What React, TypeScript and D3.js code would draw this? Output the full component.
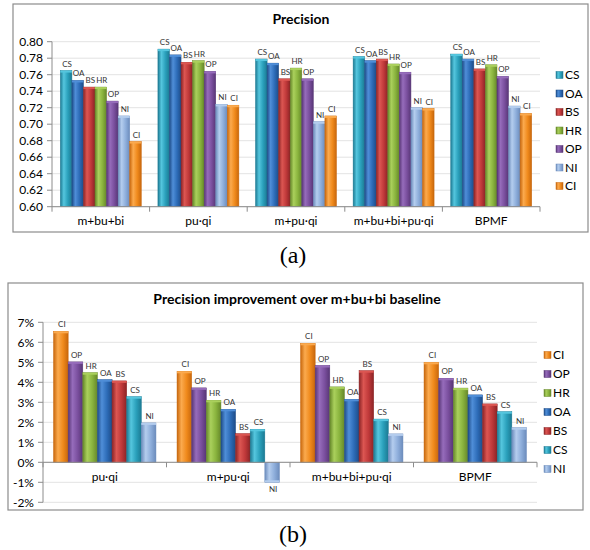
import React from 'react';
import * as d3 from 'd3';

// ---------- Data: chart (a) ----------
const topCategories = ['m+bu+bi', 'pu·qi', 'm+pu·qi', 'm+bu+bi+pu·qi', 'BPMF'];
const topSeries = ['CS', 'OA', 'BS', 'HR', 'OP', 'NI', 'CI'];
const topCS = [0.765, 0.791, 0.779, 0.782, 0.785];
const topOA = [0.753, 0.784, 0.774, 0.777, 0.779];
const topBS = [0.745, 0.775, 0.755, 0.779, 0.767];
const topHR = [0.745, 0.777, 0.768, 0.773, 0.772];
const topOP = [0.728, 0.764, 0.755, 0.763, 0.758];
const topNI = [0.710, 0.724, 0.703, 0.720, 0.722];
const topCI = [0.679, 0.723, 0.710, 0.719, 0.713];
const topTicks = [0.6, 0.62, 0.64, 0.66, 0.68, 0.7, 0.72, 0.74, 0.76, 0.78, 0.8];

// ---------- Data: chart (b) ----------
const botCategories = ['pu·qi', 'm+pu·qi', 'm+bu+bi+pu·qi', 'BPMF'];
const botSeries = ['CI', 'OP', 'HR', 'OA', 'BS', 'CS', 'NI'];
const botCI = [6.55, 4.55, 5.95, 5.0];
const botOP = [5.02, 3.72, 4.84, 4.2];
const botHR = [4.48, 3.1, 3.77, 3.71];
const botOA = [4.13, 2.65, 3.15, 3.37];
const botBS = [4.07, 1.43, 4.58, 2.92];
const botCS = [3.28, 1.65, 2.16, 2.53];
const botNI = [1.97, -1.0, 1.42, 1.73];
const botTicks = [-2, -1, 0, 1, 2, 3, 4, 5, 6, 7];

const topValues: Record<string, number[]> = { CS: topCS, OA: topOA, BS: topBS, HR: topHR, OP: topOP, NI: topNI, CI: topCI };
const botValues: Record<string, number[]> = { CI: botCI, OP: botOP, HR: botHR, OA: botOA, BS: botBS, CS: botCS, NI: botNI };

const colors: Record<string, { base: string; light: string; dark: string }> = {
  CS: { base: '#2aa0bb', light: '#55c6de', dark: '#1c7a93' },
  OA: { base: '#2d6cb8', light: '#4f8ed8', dark: '#1e4c88' },
  BS: { base: '#c0393a', light: '#dc5652', dark: '#8c2426' },
  HR: { base: '#8ab43e', light: '#aad05c', dark: '#66882a' },
  OP: { base: '#7a4f9e', light: '#966cbb', dark: '#583676' },
  NI: { base: '#8eaedb', light: '#b4cdee', dark: '#6c8cbc' },
  CI: { base: '#f08a1c', light: '#fbaa4e', dark: '#c8670c' },
};

const FONT = "Lato, 'Liberation Sans', Arial, sans-serif";

type ChartProps = {
  id: string;
  frame: [number, number, number, number];
  plotX: [number, number];
  plotY: [number, number];
  domain: [number, number];
  baseline: number;
  ticks: number[];
  tickFmt: (v: number) => string;
  categories: string[];
  series: string[];
  values: Record<string, number[]>;
  title: string;
  titleX: number;
  titleY: number;
  catLabelY: number;
  legendX: number;
  legendY: number;
  legendStep: number;
};

function Chart(p: ChartProps) {
  const y = d3.scaleLinear().domain(p.domain).range([p.plotY[1], p.plotY[0]]);
  const x0 = d3.scaleBand<string>().domain(p.categories).range(p.plotX).padding(0);
  const x1 = d3.scaleBand<string>().domain(p.series).range([0, x0.bandwidth()]).paddingInner(0).paddingOuter(0.72);
  const y0 = y(p.baseline);
  const [fx, fy, fw, fh] = p.frame;
  return (
    <g>
      <rect x={fx} y={fy} width={fw} height={fh} fill="#fff" stroke="#8c8c8c" strokeWidth={1.2} />
      <text x={p.titleX} y={p.titleY} textAnchor="middle" fontFamily={FONT} fontWeight="bold" fontSize={14} fill="#000">{p.title}</text>
      {p.ticks.map((t) => (
        <g key={t}>
          <line x1={p.plotX[0]} x2={p.plotX[1]} y1={y(t)} y2={y(t)} stroke="#e3e3e3" strokeWidth={1} />
          <line x1={p.plotX[0] - 5} x2={p.plotX[0]} y1={y(t)} y2={y(t)} stroke="#8c8c8c" strokeWidth={1} />
          <text x={p.plotX[0] - 9} y={y(t)} dy="0.35em" textAnchor="end" fontFamily={FONT} fontSize={12} fill="#000">{p.tickFmt(t)}</text>
        </g>
      ))}
      <line x1={p.plotX[0]} x2={p.plotX[0]} y1={p.plotY[0]} y2={p.plotY[1]} stroke="#8c8c8c" strokeWidth={1} />
      {p.categories.map((c) => (
        <g key={c} transform={`translate(${x0(c)},0)`}>
          {p.series.map((s) => {
            const v = p.values[s][p.categories.indexOf(c)];
            const bx = x1(s)!;
            const bw = x1.bandwidth();
            const yv = y(v);
            const top = Math.min(yv, y0);
            const h = Math.abs(yv - y0);
            const neg = v < p.baseline;
            return (
              <g key={s}>
                <rect x={bx} y={top} width={bw} height={h} fill={`url(#${p.id}-g-${s})`} stroke={colors[s].dark} strokeWidth={0.5} />
                <rect x={bx} y={neg ? yv - 2 : yv} width={bw} height={2} fill={colors[s].light} />
                <text x={bx + bw / 2 + 1} y={neg ? yv + 10 : yv - 4} textAnchor="middle" fontFamily={FONT} fontSize={8} fill="#333">{s}</text>
              </g>
            );
          })}
        </g>
      ))}
      <line x1={p.plotX[0]} x2={p.plotX[1]} y1={y0} y2={y0} stroke="#8c8c8c" strokeWidth={1} />
      {[...p.categories.map((c) => x0(c)!), p.plotX[1]].map((xx, i) => (
        <line key={i} x1={xx} x2={xx} y1={y0} y2={y0 + 5} stroke="#8c8c8c" strokeWidth={1} />
      ))}
      {p.categories.map((c) => (
        <text key={c} x={x0(c)! + x0.bandwidth() / 2} y={p.catLabelY} textAnchor="middle" fontFamily={FONT} fontSize={12} fill="#000">{c}</text>
      ))}
      {p.series.map((s, i) => (
        <g key={s} transform={`translate(${p.legendX},${p.legendY + i * p.legendStep})`}>
          <rect x={0} y={-3.5} width={7} height={7} fill={`url(#${p.id}-g-${s})`} stroke={colors[s].dark} strokeWidth={0.5} />
          <text x={9} y={0} dy="0.36em" fontFamily={FONT} fontSize={12} fill="#000">{s}</text>
        </g>
      ))}
    </g>
  );
}

export default function App() {
  const allSeries = Object.keys(colors);
  return (
    <svg width={590} height={550} style={{ position: 'absolute', left: 0, top: 0, background: '#fff' }}>
      <defs>
        {['a', 'b'].map((id) =>
          allSeries.map((s) => (
            <linearGradient key={id + s} id={`${id}-g-${s}`} x1="0" x2="1" y1="0" y2="0">
              <stop offset="0" stopColor={colors[s].dark} />
              <stop offset="0.3" stopColor={colors[s].light} />
              <stop offset="0.65" stopColor={colors[s].base} />
              <stop offset="1" stopColor={colors[s].dark} />
            </linearGradient>
          ))
        )}
      </defs>
      <rect x={0} y={0} width={590} height={550} fill="#fff" />
      <Chart
        id="a"
        frame={[13, 4, 575, 228]}
        plotX={[52, 540]}
        plotY={[41.7, 206.7]}
        domain={[0.6, 0.8]}
        baseline={0.6}
        ticks={topTicks}
        tickFmt={(v) => v.toFixed(2)}
        categories={topCategories}
        series={topSeries}
        values={topValues}
        title="Precision"
        titleX={301}
        titleY={24}
        catLabelY={225}
        legendX={556}
        legendY={75}
        legendStep={18.5}
      />
      <Chart
        id="b"
        frame={[8, 283, 575, 227]}
        plotX={[43, 537]}
        plotY={[322.3, 502.3]}
        domain={[-2, 7]}
        baseline={0}
        ticks={botTicks}
        tickFmt={(v) => `${v}%`}
        categories={botCategories}
        series={botSeries}
        values={botValues}
        title="Precision improvement over m+bu+bi baseline"
        titleX={297}
        titleY={304}
        catLabelY={481}
        legendX={544}
        legendY={355}
        legendStep={19}
      />
      <text x={293} y={263} textAnchor="middle" fontFamily="'Liberation Serif', 'DejaVu Serif', serif" fontSize={24}>(a)</text>
      <text x={293} y={542} textAnchor="middle" fontFamily="'Liberation Serif', 'DejaVu Serif', serif" fontSize={24}>(b)</text>
    </svg>
  );
}
